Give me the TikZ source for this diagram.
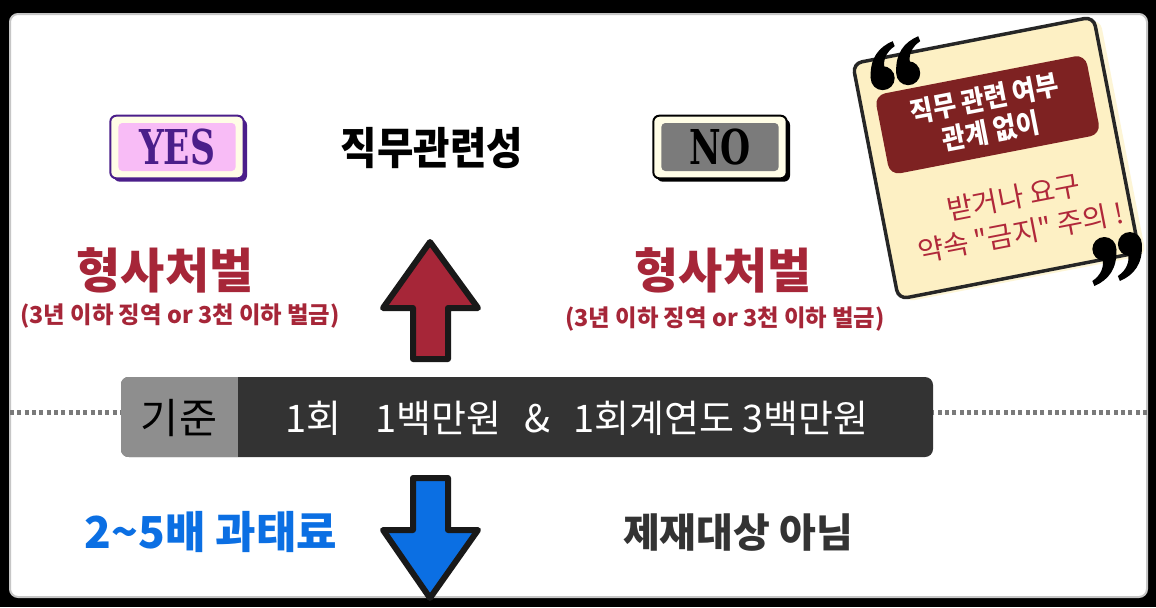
\documentclass[tikz,border=0pt]{standalone}
\usepackage{fontspec}
\setmainfont{Noto Sans CJK KR}
\newfontfamily\krnarrow{Noto Sans CJK KR}[FakeStretch=0.9]
\newfontfamily\krplain{Noto Sans CJK KR}[Ligatures=TeXOff]
\newfontfamily\slab{DejaVu Serif}[FakeStretch=0.72]
\usetikzlibrary{calc,shadows}
\definecolor{penred}{HTML}{A62638}
\definecolor{fineblue}{HTML}{0B6FE3}
\definecolor{ypurple}{HTML}{4B1E8A}
\definecolor{ypink}{HTML}{F8BCF6}
\definecolor{cream}{HTML}{FFFDE6}
\definecolor{nogray}{HTML}{7B7B7B}
\definecolor{bardark}{HTML}{333333}
\definecolor{keygray}{HTML}{8E8E8E}
\definecolor{dotgray}{HTML}{7A7A7A}
\definecolor{cardcream}{HTML}{FDF0C4}
\definecolor{cardshade}{HTML}{FDF5D6}
\definecolor{warnred}{HTML}{7E2222}
\definecolor{cautred}{HTML}{B0283A}

\begin{document}
\begin{tikzpicture}[x=0.75pt,y=-0.75pt,
  badge/.style={rectangle, rounded corners=4.5pt, line width=1.5pt, fill=cream,
                minimum width=100pt, minimum height=47pt, inner sep=0pt},
  tag/.style={rectangle, rounded corners=3pt, minimum width=88pt, minimum height=36pt,
              inner sep=0pt, font=\slab\bfseries\fontsize{36}{36}\selectfont},
  headtxt/.style={font=\krnarrow\bfseries\fontsize{33}{33}\selectfont, inner sep=0pt},
  pentxt/.style={text=penred, font=\bfseries\fontsize{36}{36}\selectfont, inner sep=0pt},
  pensub/.style={text=penred, font=\bfseries\fontsize{17.5}{17.5}\selectfont, inner sep=0pt},
  critbar/.style={rectangle, fill=bardark, rounded corners=6pt, inner sep=0pt,
                  minimum width=609pt, minimum height=60pt},
  dots/.style={draw=dotgray, line width=3.75pt, dash pattern=on 3pt off 2.5pt},
  bigarr/.style={draw=black!90, line width=4.5pt, line join=round},
  card/.style={rectangle, draw=black!85, line width=2.6pt, fill=cardcream, rounded corners=7pt,
               minimum width=184pt, minimum height=180pt,
               general shadow={fill=cardshade, shadow xshift=5pt, shadow yshift=-2pt}},
  qsix/.pic={
    \fill (-12,0) .. controls (-13,-20) and (-4,-31) .. (10,-37)
      -- (12,-32) .. controls (3,-26) and (0,-17) .. (2,-10) -- cycle;
    \fill (0,0) circle (12);
  }
]
  % frame
  \fill[black] (0,0) rectangle (1156,607);
  \useasboundingbox (0,0) rectangle (1156,607);
  \fill[white, draw=gray!45, line width=1.5pt, rounded corners=6pt] (10,14) rectangle (1147,597);

  % criteria bar
  \node[critbar] (crit) at (527,417) {};
  \path (crit.north west) ++(117,0) coordinate (keyedge);
  \begin{scope}
    \clip[rounded corners=6pt] (crit.north west) rectangle (crit.south east);
    \fill[keygray] (crit.north west) rectangle (keyedge |- crit.south);
  \end{scope}
  \node[font=\fontsize{31}{31}\selectfont, inner sep=0pt] (key) at (179,418) {기준};
  \node[text=white, font=\fontsize{28.5}{28.5}\selectfont, inner sep=0pt] (std) at (577,418)
    {1회\hspace{0.9em}1백만원\hspace{0.6em}\&\hspace{0.6em}1회계연도 3백만원};
  \coordinate (dotL) at (10,412);
  \coordinate (dotR) at (1147,412);
  \draw[dots] (dotL) -- (dotL -| crit.west);
  \draw[dots] (dotR) -- (dotR -| crit.east);

  % yes / no
  \node[badge, draw=ypurple, general shadow={fill=ypurple, shadow xshift=2.5pt, shadow yshift=-2.5pt}]
    (yesbox) at (177,147) {};
  \node[tag, fill=ypink, text=ypurple] (yes) at (yesbox) {YES};
  \node[badge, draw=black, general shadow={fill=black, shadow xshift=2.5pt, shadow yshift=-2.5pt}]
    (nobox) at (720,147) {};
  \node[tag, fill=nogray, text=black] (no) at (nobox) {NO};
  \node[headtxt] (topic) at (432,148) {직무관련성};

  % outcomes
  \node[pentxt] (penL) at (165,270) {형사처벌};
  \node[pensub] (subL) at (180,316) {(3년 이하 징역 or 3천 이하 벌금)};
  \node[pentxt] (penR) at (723,270) {형사처벌};
  \node[pensub] (subR) at (725,319) {(3년 이하 징역 or 3천 이하 벌금)};
  \node[text=fineblue, font=\bfseries\fontsize{33}{33}\selectfont, inner sep=0pt]
    (fine) at (211,532) {2\textasciitilde5배 과태료};
  \node[text=bardark, font=\bfseries\fontsize{30}{30}\selectfont, inner sep=0pt]
    (none) at (738,533) {제재대상 아님};

  % arrows
  \coordinate (upTip) at (430,242);
  \coordinate (downTip) at (430,598);
  \draw[bigarr, fill=penred] (upTip) -- ++(48,66) -- ++(-30,0) -- ++(0,51)
    -- ++(-35,0) -- ++(0,-51) -- ++(-30,0) -- cycle;
  \draw[bigarr, fill=fineblue] (downTip) -- ++(48,-68) -- ++(-30,0) -- ++(0,-52)
    -- ++(-35,0) -- ++(0,52) -- ++(-30,0) -- cycle;

  % note card
  \begin{scope}[shift={(996,158)}, rotate=11]
    \node[card, rotate=11] (card) at (0,0) {};
    \node[rectangle, rotate=11, fill=warnred, rounded corners=8pt, minimum width=161pt,
          minimum height=61pt, text=white, align=center,
          font=\krnarrow\bfseries\fontsize{21}{25}\selectfont]
      (warn) at (0,-44) {직무 관련 여부\\관계 없이};
    \node[rotate=11, text=cautred, align=center, font=\krplain\fontsize{21}{27}\selectfont]
      (caution) at (10,60) {받거나 요구\\약속 "금지" 주의 !};
    \pic at (-96,-100) {qsix};
    \pic at (-70,-100) {qsix};
    \pic[rotate=180] at (89,110) {qsix};
    \pic[rotate=180] at (115,110) {qsix};
  \end{scope}
\end{tikzpicture}
\end{document}
